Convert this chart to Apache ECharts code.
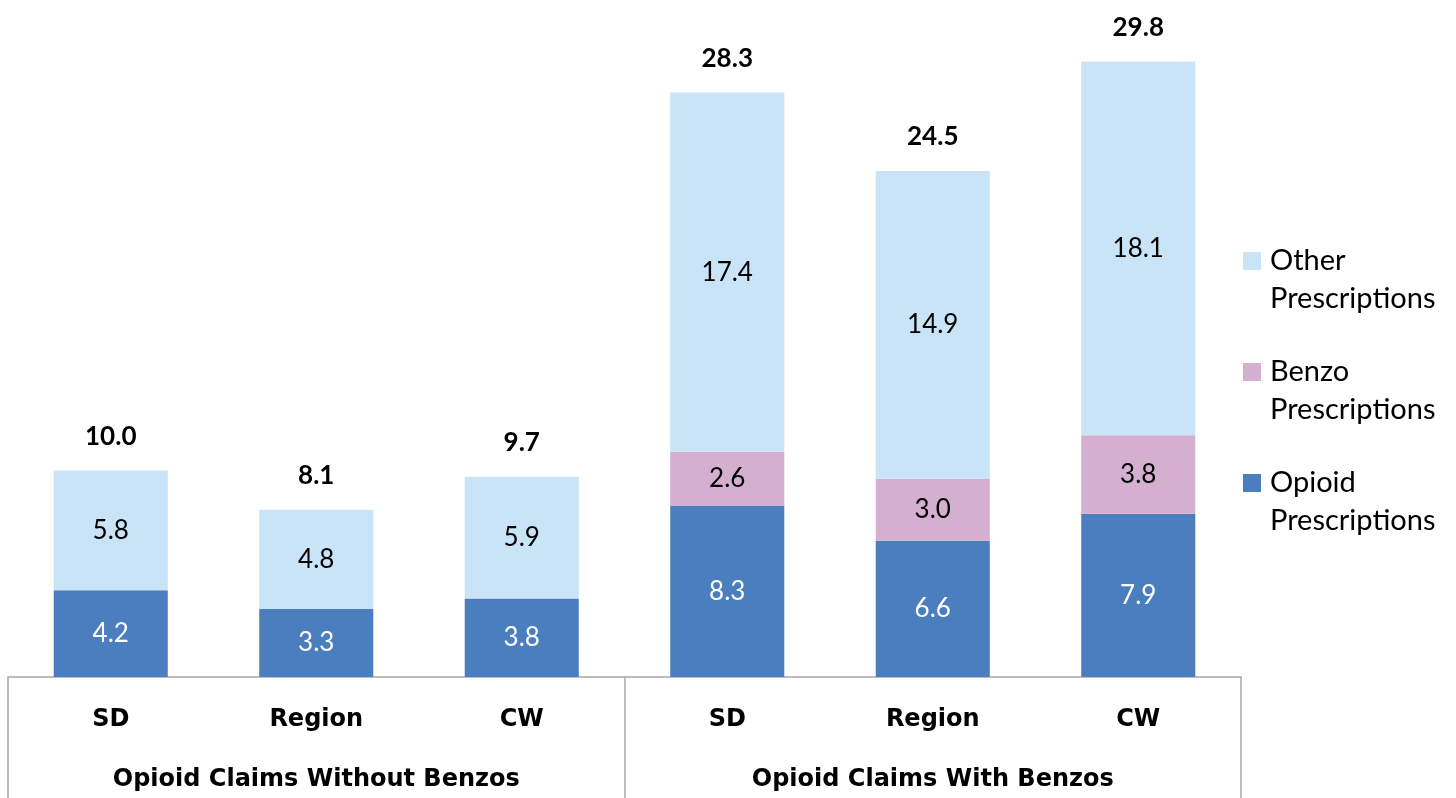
<!DOCTYPE html>
<html>
<head>
<meta charset="utf-8">
<script src="https://cdn.jsdelivr.net/npm/echarts@6/dist/echarts.min.js"></script>
<style>
html,body{margin:0;padding:0;background:#fff;}
#chart{width:1456px;height:798px;}
</style>
</head>
<body>
<div id="chart"></div>
<script>
const categories = ['SD', 'Region', 'CW', 'SD', 'Region', 'CW'];
const groups = ['Opioid Claims Without Benzos', 'Opioid Claims With Benzos'];
const opioid = [4.2, 3.3, 3.8, 8.3, 6.6, 7.9];
const benzo = [0, 0, 0, 2.6, 3.0, 3.8];
const other = [5.8, 4.8, 5.9, 17.4, 14.9, 18.1];
const totals = [10.0, 8.1, 9.7, 28.3, 24.5, 29.8];

const FONT = 'Lato';
const AXFONT = 'DejaVu Sans';
const chart = echarts.init(document.getElementById('chart'));

function segLabel(color) {
  return {
    show: true,
    position: 'inside',
    color: color,
    fontFamily: FONT,
    fontSize: 26,
    formatter: p => (p.value ? Number(p.value).toFixed(1) : '')
  };
}

chart.setOption({
  animation: false,
  backgroundColor: '#ffffff',
  grid: { left: 8, right: 215, top: 16, bottom: 121, containLabel: false },
  legend: {
    orient: 'vertical',
    left: 1243,
    top: 204,
    padding: 0,
    itemGap: -3,
    itemWidth: 18,
    itemHeight: 18,
    icon: 'rect',
    data: ['Other\nPrescriptions', 'Benzo\nPrescriptions', 'Opioid\nPrescriptions'],
    formatter: name => '\n' + name,
    textStyle: {
      fontFamily: FONT,
      fontSize: 29,
      lineHeight: 38,
      color: '#000',
      padding: [0, 0, 0, 4]
    }
  },
  xAxis: [
    {
      type: 'category',
      data: categories,
      position: 'bottom',
      axisLine: { show: false },
      axisTick: { show: false },
      axisLabel: { margin: 31, fontFamily: AXFONT, fontSize: 24, fontWeight: 'bold', color: '#000', interval: 0 }
    },
    {
      type: 'category',
      data: groups,
      position: 'bottom',
      axisLine: { show: true, lineStyle: { color: '#a6a6a6', width: 1.5 } },
      axisTick: { show: true, length: 130, interval: 0, lineStyle: { color: '#a6a6a6', width: 1.5 } },
      axisLabel: { margin: 91, fontFamily: AXFONT, fontSize: 24, fontWeight: 'bold', color: '#000', interval: 0 }
    }
  ],
  yAxis: {
    type: 'value', min: 0, max: 32,
    show: false,
    splitLine: { show: false }
  },
  series: [
    {
      name: 'Opioid\nPrescriptions', type: 'bar', stack: 'a', xAxisIndex: 0,
      barWidth: '55.5%', data: opioid,
      itemStyle: { color: '#4a7ebf' },
      label: segLabel('#ffffff')
    },
    {
      name: 'Benzo\nPrescriptions', type: 'bar', stack: 'a', xAxisIndex: 0,
      barWidth: '55.5%', data: benzo,
      itemStyle: { color: '#d5afcf' },
      label: segLabel('#000000')
    },
    {
      name: 'Other\nPrescriptions', type: 'bar', stack: 'a', xAxisIndex: 0,
      barWidth: '55.5%', data: other,
      itemStyle: { color: '#c9e4f7' },
      label: segLabel('#000000')
    },
    {
      name: 'Total', type: 'bar', stack: 'a', xAxisIndex: 0,
      barWidth: '55.5%', data: totals.map(() => 0),
      itemStyle: { color: 'rgba(0,0,0,0)' },
      label: {
        show: true, position: 'top', distance: 21,
        fontFamily: FONT, fontSize: 26, fontWeight: 'bold', color: '#000',
        formatter: p => totals[p.dataIndex].toFixed(1)
      }
    }
  ]
});
</script>
</body>
</html>
